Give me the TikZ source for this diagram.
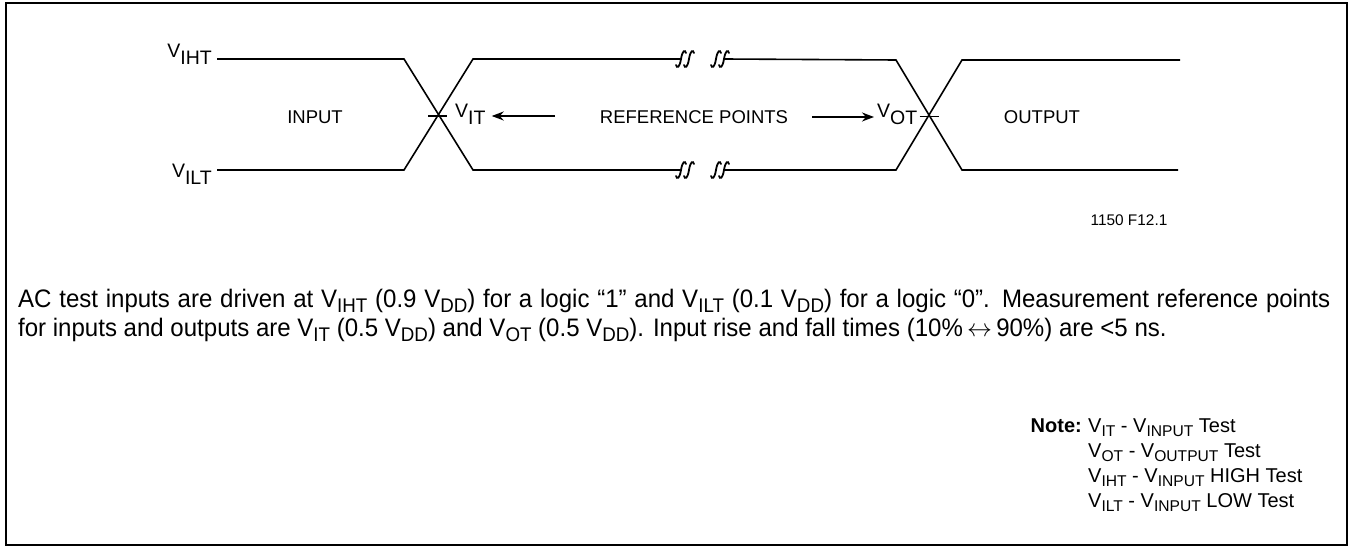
\documentclass[tikz,border=0pt]{standalone}
\usepackage{fontspec}
\setmainfont{Liberation Sans}
\newfontfamily\bodyfont[FakeStretch=0.95]{Liberation Sans}
\usetikzlibrary{arrows.meta}
\newcommand\bigsub[1]{\raisebox{-7pt}{#1}}
\newcommand\smsub[1]{\raisebox{-0.22em}{\scalebox{0.78}{#1}}}
\tikzset{
  wave/.style={line width=1.6pt, line join=miter},
  lbl/.style={inner sep=0pt, font=\fontsize{18.5}{20}\selectfont},
  vlbl/.style={inner sep=0pt, font=\fontsize{19.5}{21}\selectfont},
  body/.style={inner sep=0pt, anchor=base west, font=\bodyfont\fontsize{25.3}{29}\selectfont},
  note/.style={inner sep=0pt, anchor=base west, font=\fontsize{20}{25}\selectfont},
  refarrow/.style={line width=1.6pt, -{Stealth[length=12pt,width=9pt]}},
  brk/.pic={\draw[line width=1.8pt, line cap=round] (-5,6) .. controls (-4,9.5) and (-1.5,9) .. (0,0) .. controls (1.5,-9) and (4,-9.5) .. (5,-6);}
}
\begin{document}
\begin{tikzpicture}[x=1pt,y=-1pt]
\useasboundingbox (0,0) rectangle (1350,548);
\draw[line width=2.5pt] (6,3) rectangle (1347,545);

% waveform coordinates
\coordinate (tl) at (217,59);
\coordinate (bl) at (217,170);
\coordinate (tla) at (404,59);
\coordinate (bla) at (404,170);
\coordinate (tlb) at (473,59);
\coordinate (blb) at (473,170);
\coordinate (tbrk1) at (681,59);
\coordinate (bbrk1) at (681,170);
\coordinate (tbrk2) at (724,59);
\coordinate (bbrk2) at (724,170);
\coordinate (tra) at (896,60);
\coordinate (bra) at (896,170);
\coordinate (trb) at (962,60);
\coordinate (brb) at (962,170);
\coordinate (tre) at (1180,60);
\coordinate (bre) at (1178,170);
\coordinate (xin) at (437.5,116);
\coordinate (xout) at (929,116.5);

\draw[wave] (tl) -- (tla) -- (blb) -- (bbrk1);
\draw[wave] (bl) -- (bla) -- (tlb) -- (tbrk1);
\draw[wave] (tbrk2) -- (tra) -- (brb) -- (bre);
\draw[wave] (bbrk2) -- (bra) -- (trb) -- (tre);

\pic at (681,59) {brk};
\pic at (689,59) {brk};
\pic at (716,59) {brk};
\pic at (724,59) {brk};
\pic at (681,170) {brk};
\pic at (689,170) {brk};
\pic at (716,170) {brk};
\pic at (724,170) {brk};

\draw[line width=1.4pt] ([xshift=-9.5pt]xin) -- ([xshift=9.5pt]xin);
\draw[line width=1.4pt] ([xshift=-9.5pt]xout) -- ([xshift=9.5pt]xout);

% labels
\node[vlbl, anchor=base east] (vih) at (212,58) {V\bigsub{IHT}};
\node[vlbl, anchor=base east] (vil) at (212,178) {V\bigsub{ILT}};
\node[vlbl, anchor=base west] (vit) at (455,118) {V\bigsub{IT}};
\node[vlbl, anchor=base west] (vot) at (877,118) {V\bigsub{OT}};

\node[lbl] (inp) at (315,117) {INPUT};
\node[lbl] (ref) at (694,117) {REFERENCE POINTS};
\node[lbl] (outp) at (1042,117) {OUTPUT};
\node[inner sep=0pt, font=\fontsize{15.4}{18}\selectfont] (fig) at (1129,220) {1150 F12.1};

\coordinate (la) at (555,116);
\coordinate (ra) at (812,117);
\draw[refarrow] (la) -- ([xshift=6pt]vit.east |- la);
\draw[refarrow] (ra) -- ([xshift=-3pt]vot.west |- ra);

% body text (first line justified to the right margin)
\node[body] (b1) at (18,307) {\makebox[1312pt][s]{AC test inputs are driven at V\smsub{IHT} (0.9 V\smsub{DD}) for a logic “1” and V\smsub{ILT} (0.1 V\smsub{DD}) for a logic “0”. Measurement reference points}};
\node[body] (b2) at (18,336) {for inputs and outputs are V\smsub{IT} (0.5 V\smsub{DD}) and V\smsub{OT} (0.5 V\smsub{DD}). Input rise and fall times (10\%\,$\leftrightarrow$\,90\%) are <5 ns.};

% note
\node[note, anchor=base east, font=\bfseries\fontsize{20}{25}\selectfont] (nt) at (1082,432) {Note:};
\node[note] (n1) at (1088,432) {V\smsub{IT} - V\smsub{INPUT} Test};
\node[note] (n2) at (1088,457) {V\smsub{OT} - V\smsub{OUTPUT} Test};
\node[note] (n3) at (1088,482) {V\smsub{IHT} - V\smsub{INPUT} HIGH Test};
\node[note] (n4) at (1088,507) {V\smsub{ILT} - V\smsub{INPUT} LOW Test};
\end{tikzpicture}
\end{document}
